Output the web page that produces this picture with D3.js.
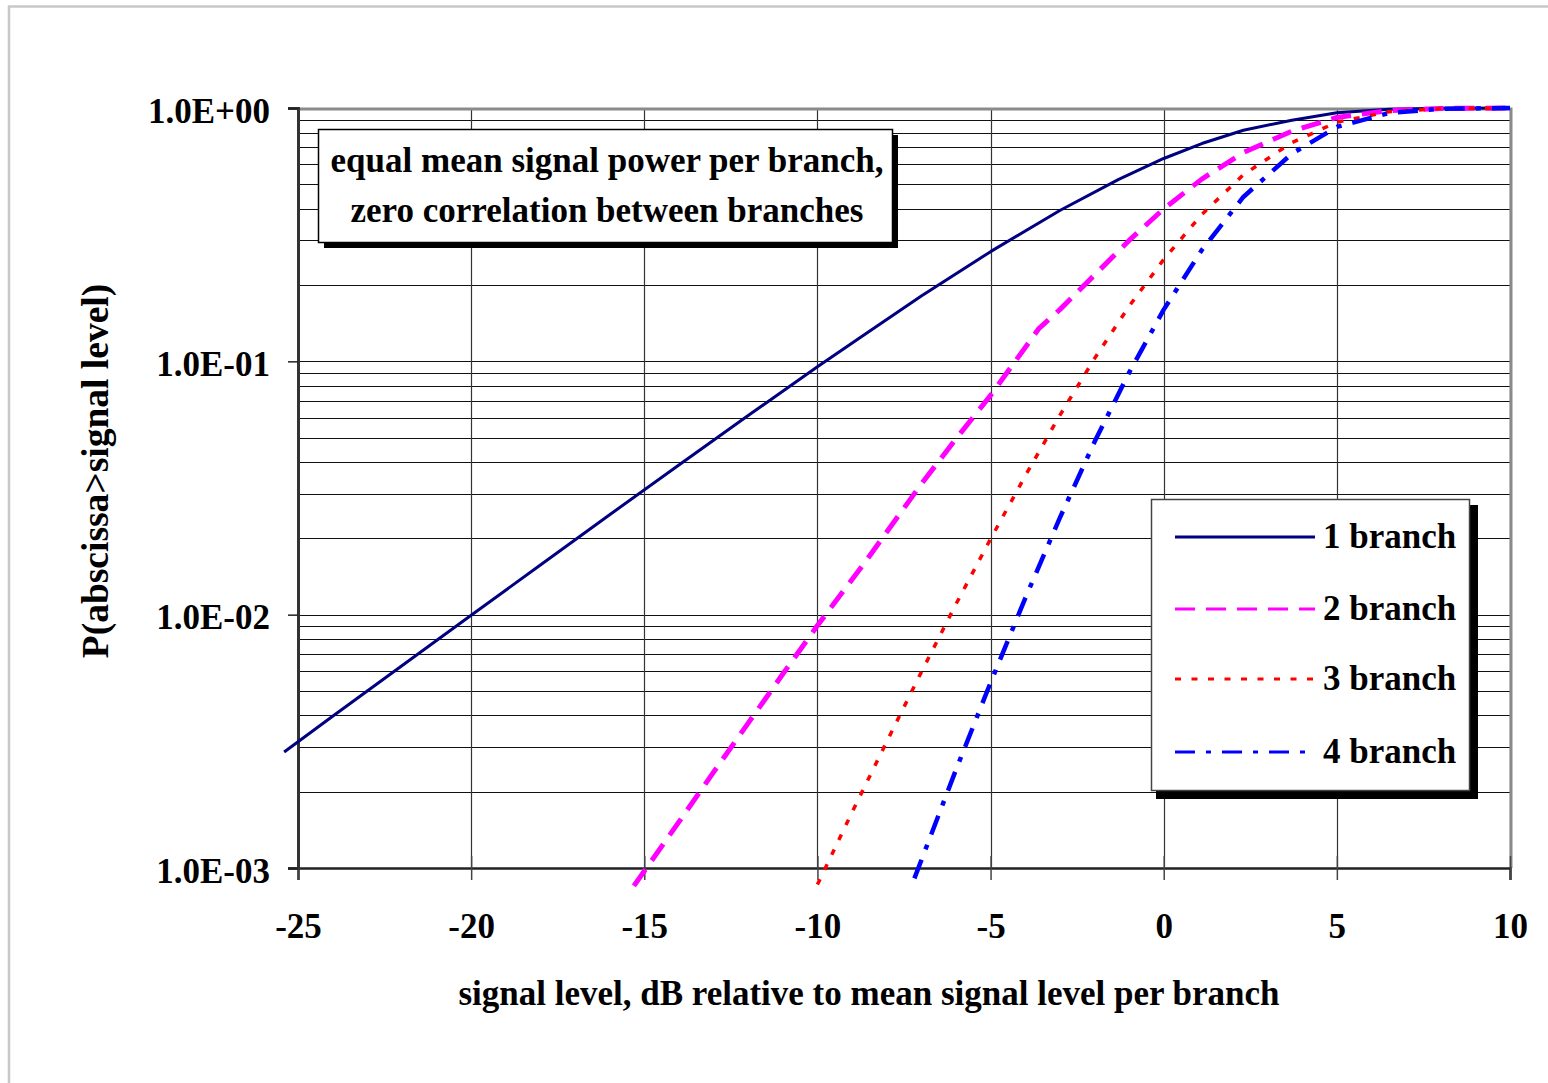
<!DOCTYPE html>
<html>
<head>
<meta charset="utf-8">
<script src="https://cdnjs.cloudflare.com/ajax/libs/d3/7.8.5/d3.min.js"></script>
<style>
  html, body { margin: 0; padding: 0; background: #fff; }
  svg text { font-family: "Liberation Serif", "Times New Roman", serif; font-weight: bold; fill: #000; }
</style>
</head>
<body>
<div id="chart"></div>
<script>
// Data: signal level (dB) vs P(abscissa > signal level)
const xTicks = [-25, -20, -15, -10, -5, 0, 5, 10];
const yTicks = [0.001, 0.01, 0.1, 1];
const yTickLabels = ['1.0E-03', '1.0E-02', '1.0E-01', '1.0E+00'];

const branch1Db = [-25.4, -24, -22, -20, -18, -16, -14, -12, -10, -8.7, -7, -5, -3, -1.3, 0, 1.1, 2.3, 3.7, 5, 6.5, 8, 10];
const branch1P = [0.00287, 0.00397, 0.00629, 0.00995, 0.0157, 0.0248, 0.039, 0.0611, 0.0952, 0.126, 0.181, 0.271, 0.394, 0.523, 0.632, 0.724, 0.817, 0.895, 0.958, 0.9885, 0.998, 1.0];

const branch2Db = [-15.3, -14, -13, -12, -11, -10, -8.7, -7, -6, -5, -3.6, -3, -2, -1, 0, 1.1, 2.3, 3.7, 5, 6.5, 8, 10];
const branch2P = [0.00085, 0.00152, 0.00239, 0.00373, 0.00583, 0.00906, 0.0156, 0.0328, 0.0494, 0.0734, 0.135, 0.16, 0.219, 0.300, 0.400, 0.524, 0.667, 0.81, 0.918, 0.977, 0.996, 1.0];

const branch3Db = [-10, -9, -8, -7, -6, -5, -4, -3, -2, -1, 0, 1.1, 2.3, 3.7, 5, 6.5, 8, 10];
const branch3P = [0.00086, 0.00166, 0.00315, 0.00593, 0.011, 0.0199, 0.0353, 0.0612, 0.1025, 0.165, 0.2525, 0.38, 0.545, 0.73, 0.879, 0.966, 0.9946, 1.0];

const branch4Db = [-7.2, -6, -5, -4, -3, -2, -1, 0, 1.1, 2.3, 3.7, 5, 6.5, 8, 10];
const branch4P = [0.00091, 0.00244, 0.00539, 0.0116, 0.0241, 0.048, 0.0902, 0.16, 0.275, 0.4455, 0.66, 0.842, 0.955, 0.9928, 1.0];

const seriesNames = ['1 branch', '2 branch', '3 branch', '4 branch'];
const seriesX = [branch1Db, branch2Db, branch3Db, branch4Db];
const seriesY = [branch1P, branch2P, branch3P, branch4P];

const lineStyles = [
  { color: '#000080', width: 3, dash: null },
  { color: '#ff00ff', width: 5, dash: '20,11' },
  { color: '#ff0000', width: 3.5, dash: '6,10.5' },
  { color: '#0000ff', width: 4.5, dash: '20,11,5,11' }
];

const width = 1548;
const height = 1083;
const plot = { left: 298, right: 1510, top: 108, bottom: 868 };

const svg = d3.select('#chart').append('svg')
  .attr('width', width)
  .attr('height', height);

// Outer chart border
svg.append('rect')
  .attr('x', 9)
  .attr('y', 6.5)
  .attr('width', 1600)
  .attr('height', 1200)
  .attr('fill', 'none')
  .attr('stroke', '#c8c8c8')
  .attr('stroke-width', 2.5);

const x = d3.scaleLinear().domain([-25, 10]).range([plot.left, plot.right]);
const y = d3.scaleLog().domain([0.001, 1]).range([plot.bottom, plot.top]);

// Gridlines
const grid = svg.append('g').attr('class', 'grid');
grid.selectAll('line.hgrid')
  .data(y.ticks())
  .join('line')
  .attr('class', 'hgrid')
  .attr('x1', plot.left)
  .attr('x2', plot.right)
  .attr('y1', d => Math.round(y(d)) + 0.5)
  .attr('y2', d => Math.round(y(d)) + 0.5)
  .attr('stroke', '#111')
  .attr('stroke-width', 1.2);
grid.selectAll('line.vgrid')
  .data(xTicks)
  .join('line')
  .attr('class', 'vgrid')
  .attr('x1', d => Math.round(x(d)) + 0.5)
  .attr('x2', d => Math.round(x(d)) + 0.5)
  .attr('y1', plot.top)
  .attr('y2', plot.bottom)
  .attr('stroke', '#333')
  .attr('stroke-width', 1.2);

// Plot area border (top and right, grey)
svg.append('path')
  .attr('d', `M${plot.left},${plot.top + 1} H${plot.right + 1} V${plot.bottom}`)
  .attr('fill', 'none')
  .attr('stroke', '#8a8a8a')
  .attr('stroke-width', 3);

// Axes
const xAxis = svg.append('g')
  .attr('transform', `translate(0,${plot.bottom})`)
  .call(d3.axisBottom(x).tickValues(xTicks).tickSizeOuter(0).tickSize(12).tickFormat(d3.format('d')));
xAxis.select('.domain').attr('stroke', '#222').attr('stroke-width', 2.5);
xAxis.selectAll('.tick line').attr('stroke', '#444').attr('stroke-width', 1.5).attr('y1', -12);
xAxis.selectAll('.tick text')
  .attr('y', 70)
  .attr('dy', 0)
  .style('font-size', '35px')
  .style('font-family', '"Liberation Serif", serif')
  .style('font-weight', 'bold')
  .text(d => d < 0 ? '-' + Math.abs(d) : String(d));

const yAxis = svg.append('g')
  .attr('transform', `translate(${plot.left},0)`)
  .call(d3.axisLeft(y).tickValues(yTicks).tickSizeOuter(0).tickSize(10)
    .tickFormat((d, i) => yTickLabels[i]));
yAxis.select('.domain').attr('stroke', '#333').attr('stroke-width', 3);
yAxis.selectAll('.tick line').attr('stroke', '#222').attr('stroke-width', 1.5);
yAxis.selectAll('.tick text')
  .attr('x', -28)
  .attr('dy', 14)
  .style('font-size', '35px')
  .style('font-family', '"Liberation Serif", serif')
  .style('font-weight', 'bold');

// Series lines (not clipped, as in the original)
const lineGen = d3.line()
  .x(d => x(d[0]))
  .y(d => y(d[1]));

const lines = svg.append('g').attr('class', 'series');
seriesNames.forEach((name, i) => {
  const pts = seriesX[i].map((v, j) => [v, seriesY[i][j]]);
  const st = lineStyles[i];
  lines.append('path')
    .datum(pts)
    .attr('d', lineGen)
    .attr('fill', 'none')
    .attr('stroke', st.color)
    .attr('stroke-width', st.width)
    .attr('stroke-dasharray', st.dash)
    .attr('stroke-linejoin', 'round');
});

// Note box
const noteBox = { x: 318, y: 129, w: 574, h: 113 };
svg.append('rect')
  .attr('x', noteBox.x + 6)
  .attr('y', noteBox.y + 6)
  .attr('width', noteBox.w)
  .attr('height', noteBox.h)
  .attr('fill', '#000');
svg.append('rect')
  .attr('x', noteBox.x + 0.5)
  .attr('y', noteBox.y + 0.5)
  .attr('width', noteBox.w)
  .attr('height', noteBox.h)
  .attr('fill', '#fff')
  .attr('stroke', '#000')
  .attr('stroke-width', 1.5);
const noteLines = ['equal mean signal power per branch,', 'zero correlation between branches'];
svg.append('g').selectAll('text')
  .data(noteLines)
  .join('text')
  .attr('x', noteBox.x + noteBox.w / 2 + 2)
  .attr('y', (d, i) => 172 + i * 50)
  .attr('text-anchor', 'middle')
  .style('font-size', '35px')
  .text(d => d);

// Legend
const legendBox = { x: 1151, y: 499, w: 318, h: 291 };
svg.append('rect')
  .attr('x', legendBox.x + 5)
  .attr('y', legendBox.y + 6)
  .attr('width', legendBox.w + 4)
  .attr('height', legendBox.h + 3)
  .attr('fill', '#000');
svg.append('rect')
  .attr('x', legendBox.x + 0.5)
  .attr('y', legendBox.y + 0.5)
  .attr('width', legendBox.w)
  .attr('height', legendBox.h)
  .attr('fill', '#fff')
  .attr('stroke', '#444')
  .attr('stroke-width', 1.5);

const legendRowsY = [537, 609, 679, 752];
const legend = svg.append('g').attr('class', 'legend');
seriesNames.forEach((name, i) => {
  const st = lineStyles[i];
  legend.append('line')
    .attr('x1', 1175)
    .attr('x2', 1315)
    .attr('y1', legendRowsY[i])
    .attr('y2', legendRowsY[i])
    .attr('stroke', st.color)
    .attr('stroke-width', 3)
    .attr('stroke-dasharray', st.dash);
  legend.append('text')
    .attr('x', 1323)
    .attr('y', legendRowsY[i] + 11)
    .style('font-size', '35px')
    .text(name);
});

// Axis titles
svg.append('text')
  .attr('x', 869)
  .attr('y', 1005)
  .attr('text-anchor', 'middle')
  .style('font-size', '35px')
  .text('signal level, dB relative to mean signal level per branch');

svg.append('text')
  .attr('transform', 'translate(108,471) rotate(-90)')
  .attr('text-anchor', 'middle')
  .style('font-size', '37.5px')
  .text('P(abscissa>signal level)');
</script>
</body>
</html>
